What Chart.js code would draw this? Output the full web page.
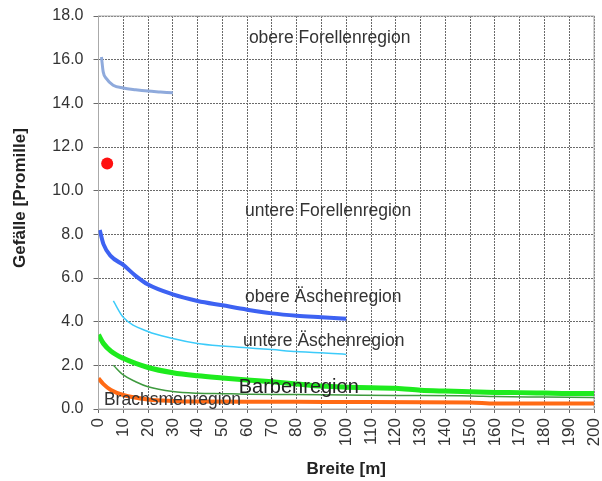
<!DOCTYPE html>
<html>
<head>
<meta charset="utf-8">
<script src="https://cdn.jsdelivr.net/npm/chart.js@4"></script>
<style>
  html, body { margin: 0; padding: 0; background: #fff; }
  #wrap { width: 602px; height: 481px; }
</style>
</head>
<body>
<div id="wrap"><canvas id="chart"></canvas></div>
<script>
/* Gefälle vs. Breite – Fischregionen */

const xTicks = [0, 200, 10];      // min, max, step
const yTicks = [0, 18, 2];

const forelleObenX = [1.2, 1.9, 3.2, 5.9, 10, 15, 20, 25, 30];
const forelleObenY = [16.12, 15.44, 15.13, 14.83, 14.7, 14.62, 14.56, 14.52, 14.48];

const aescheObenX = [0.5, 2, 5, 10, 15, 20, 30, 40, 50, 60, 70, 80, 90, 100];
const aescheObenY = [8.2, 7.55, 7.0, 6.6, 6.1, 5.7, 5.25, 4.95, 4.75, 4.55, 4.38, 4.27, 4.2, 4.13];

const aescheUntenX = [6, 10, 20, 30, 40, 50, 60, 70, 80, 90, 100];
const aescheUntenY = [4.95, 4.2, 3.55, 3.23, 3.0, 2.88, 2.8, 2.72, 2.63, 2.58, 2.5];

const barbeX = [0, 2, 5, 10, 20, 30, 40, 50, 60, 70, 80, 90, 100, 110, 120, 130, 140, 150, 160, 170, 180, 190, 200];
const barbeY = [3.4, 3.0, 2.65, 2.32, 1.9, 1.66, 1.52, 1.42, 1.33, 1.25, 1.15, 1.05, 1.0, 0.97, 0.95, 0.86, 0.82, 0.79, 0.76, 0.75, 0.73, 0.71, 0.71];

const barbeUntenX = [6, 10, 15, 20, 30, 40, 50, 60, 80, 100, 120, 150, 160, 180, 200];
const barbeUntenY = [2.0, 1.56, 1.25, 1.02, 0.8, 0.72, 0.7, 0.68, 0.66, 0.64, 0.62, 0.6, 0.57, 0.55, 0.53];

const brachsenX = [0, 2, 5, 10, 20, 30, 40, 60, 80, 100, 150, 160, 200];
const brachsenY = [1.4, 1.14, 0.87, 0.64, 0.44, 0.37, 0.34, 0.33, 0.33, 0.32, 0.3, 0.25, 0.25];

const punktX = [3.5];
const punktY = [11.24];

const regionNames = ['obere Forellenregion', 'untere Forellenregion', 'obere Äschenregion',
                     'untere Äschenregion', 'Barbenregion', 'Brachsmenregion'];
const regionX = [60.7, 59.1, 59.1, 58.3, 56.6, 2.2];
const regionY = [17.0, 9.06, 5.13, 3.11, 1.0, 0.41];

const FONT = "'Liberation Sans', Arial, sans-serif";

function pts(xs, ys) { return xs.map((x, i) => ({ x: x, y: ys[i] })); }

function series(xs, ys, color, width) {
  return {
    data: pts(xs, ys), borderColor: color, borderWidth: width,
    pointRadius: 0, showLine: true, fill: false,
    cubicInterpolationMode: 'monotone'
  };
}

const overlay = {
  id: 'overlay',
  beforeDatasetsDraw(chart) {
    const { ctx, chartArea: a } = chart;
    ctx.save();
    ctx.strokeStyle = '#aaa';
    ctx.lineWidth = 1;
    ctx.strokeRect(a.left, a.top, a.right - a.left, a.bottom - a.top);
    ctx.restore();
  },
  afterDatasetsDraw(chart) {
    const { ctx } = chart;
    const xs = chart.scales.x, ys = chart.scales.y;
    ctx.save();
    ctx.textBaseline = 'middle';
    ctx.textAlign = 'left';
    regionNames.forEach((t, i) => {
      ctx.font = (t === 'Barbenregion' ? '20px ' : '17.5px ') + FONT;
      ctx.fillStyle = t === 'Barbenregion' ? '#222' : '#333';
      ctx.fillText(t, xs.getPixelForValue(regionX[i]), ys.getPixelForValue(regionY[i]));
    });
    // y axis title
    ctx.translate(20, 198);
    ctx.rotate(-Math.PI / 2);
    ctx.textAlign = 'center';
    ctx.font = 'bold 17px ' + FONT;
    ctx.fillStyle = '#222';
    ctx.fillText('Gefälle [Promille]', 0, 0);
    ctx.restore();
  }
};

new Chart(document.getElementById('chart'), {
  type: 'scatter',
  data: {
    datasets: [
      series(forelleObenX, forelleObenY, '#8FAADC', 3),
      series(aescheObenX, aescheObenY, '#3D62F2', 4),
      series(aescheUntenX, aescheUntenY, '#3CCBFA', 1.5),
      series(barbeX, barbeY, '#1EEB1E', 5),
      series(barbeUntenX, barbeUntenY, '#3E9A3E', 1.5),
      series(brachsenX, brachsenY, '#FF6A14', 4),
      { data: pts(punktX, punktY), showLine: false, pointRadius: 6,
        pointBackgroundColor: '#FF1010', pointBorderWidth: 0 }
    ]
  },
  options: {
    responsive: true, maintainAspectRatio: false, animation: false,
    layout: { padding: { left: 0, right: 8, top: 16, bottom: 0 } },
    plugins: { legend: { display: false }, tooltip: { enabled: false } },
    scales: {
      x: {
        type: 'linear', min: xTicks[0], max: xTicks[1],
        afterFit: s => { s.height = 72; s.paddingLeft = 0; s.paddingRight = 0; },
        grid: { color: '#6a6a6a', lineWidth: 1, tickLength: 4 },
        border: { display: true, color: '#999', dash: [2, 1] },
        ticks: {
          stepSize: xTicks[2], autoSkip: false, minRotation: 90, maxRotation: 90,
          padding: 5, color: '#333', font: { family: FONT, size: 17 }
        },
        title: {
          display: true, text: 'Breite [m]', color: '#222',
          font: { family: FONT, size: 17, weight: 'bold' }, padding: { top: 0, bottom: 1 }
        }
      },
      y: {
        type: 'linear', min: yTicks[0], max: yTicks[1],
        afterFit: s => { s.width = 98.5; s.paddingTop = 0; s.paddingBottom = 0; },
        grid: { color: '#6a6a6a', lineWidth: 1, tickLength: 5 },
        border: { display: true, color: '#999', dash: [2, 1] },
        ticks: {
          stepSize: yTicks[2], padding: 10, color: '#333',
          font: { family: FONT, size: 16 },
          callback: v => v.toFixed(1)
        }
      }
    }
  },
  plugins: [overlay]
});
</script>
</body>
</html>
